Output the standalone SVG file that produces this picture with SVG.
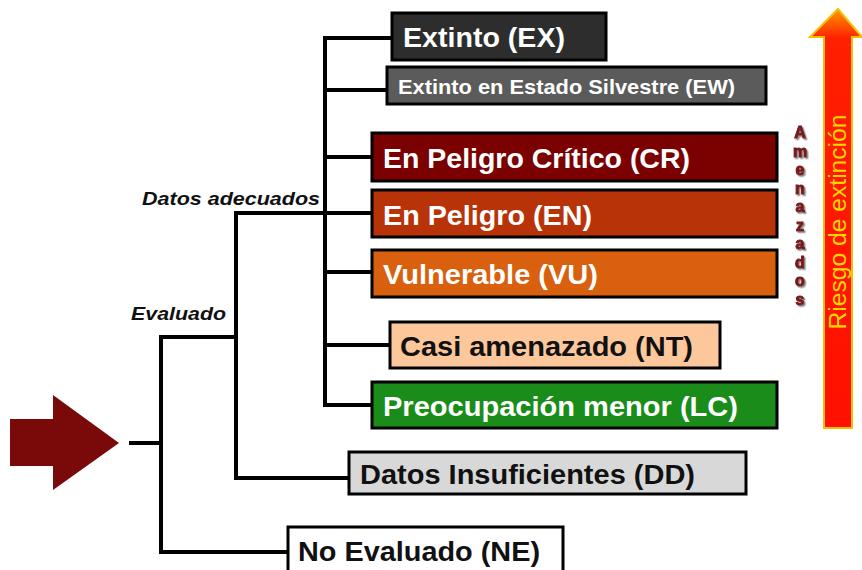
<svg xmlns="http://www.w3.org/2000/svg" width="862" height="570" viewBox="0 0 862 570">
<defs>
<style>
.box{stroke:#000;stroke-width:3}
.t{font-family:"Liberation Sans",Arial,sans-serif;font-weight:bold;font-size:28px}
.w{fill:#fff}
.k{fill:#111}
.ln{stroke:#000;stroke-width:4;fill:none;stroke-linecap:square}
.lab{font-family:"Liberation Sans",Arial,sans-serif;font-weight:bold;font-style:italic;font-size:19px;fill:#111}
.am{font-family:"Liberation Sans",Arial,sans-serif;font-weight:bold;font-size:16px;text-anchor:middle;fill:#7a1418;stroke:#7a1418;stroke-width:1}
</style>
<filter id="sh" x="-50%" y="-10%" width="200%" height="120%">
<feDropShadow dx="1.5" dy="1.5" stdDeviation="0.6" flood-color="#8a8a8a" flood-opacity="1"/>
</filter>
<linearGradient id="rg" x1="0" y1="0" x2="0" y2="1">
<stop offset="0" stop-color="#ff9a00"/>
<stop offset="0.07" stop-color="#ff2000"/>
<stop offset="1" stop-color="#ff1000"/>
</linearGradient>
</defs>
<rect width="862" height="570" fill="#fff"/>

<g id="connectors">
<polygon points="10,419 53,419 53,395 119,443 53,490 53,466 10,466" fill="#7a0a0a"/>
<path class="ln" d="M131,443 H161 M161,337 V552 M161,337 H236 M161,552 H288 M236,213 V478 M236,478 H349 M236,213 H325 M325,38 V405 M325,38 H392 M325,90 H387 M325,157 H372 M325,213 H372 M325,272 H372 M325,345 H390 M325,405 H372"/>
</g>

<g id="label-datos"><text class="lab" x="142" y="205" textLength="178" lengthAdjust="spacingAndGlyphs">Datos adecuados</text></g>
<g id="label-evaluado"><text class="lab" x="131" y="320" textLength="95" lengthAdjust="spacingAndGlyphs">Evaluado</text></g>

<g id="EX"><rect class="box" x="392" y="13" width="214" height="47" fill="#2d2d2d"/><text class="t w" x="403" y="47" textLength="162" lengthAdjust="spacingAndGlyphs">Extinto (EX)</text></g>
<g id="EW"><rect class="box" x="387" y="67" width="379" height="37" fill="#5b5b5b"/><text class="t w" x="398" y="94" style="font-size:21px" textLength="337" lengthAdjust="spacingAndGlyphs">Extinto en Estado Silvestre (EW)</text></g>
<g id="CR"><rect class="box" x="372" y="133" width="405" height="48" fill="#7b0000"/><text class="t w" x="383" y="168" textLength="307" lengthAdjust="spacingAndGlyphs">En Peligro Crítico (CR)</text></g>
<g id="EN"><rect class="box" x="372" y="190" width="405" height="47" fill="#b83308"/><text class="t w" x="383" y="225" textLength="209" lengthAdjust="spacingAndGlyphs">En Peligro (EN)</text></g>
<g id="VU"><rect class="box" x="372" y="250" width="405" height="47" fill="#d8600f"/><text class="t w" x="383" y="284" textLength="215" lengthAdjust="spacingAndGlyphs">Vulnerable (VU)</text></g>
<g id="NT"><rect class="box" x="390" y="322" width="330" height="46" fill="#fcc89b"/><text class="t k" x="400" y="356" textLength="293" lengthAdjust="spacingAndGlyphs">Casi amenazado (NT)</text></g>
<g id="LC"><rect class="box" x="372" y="382" width="405" height="46" fill="#1a8c1a"/><text class="t w" x="383" y="416" textLength="355" lengthAdjust="spacingAndGlyphs">Preocupación menor (LC)</text></g>
<g id="DD"><rect class="box" x="349" y="452" width="397" height="42" fill="#d8d8d8"/><text class="t k" x="360" y="484" textLength="335" lengthAdjust="spacingAndGlyphs">Datos Insuficientes (DD)</text></g>
<g id="NE"><rect class="box" x="288" y="527" width="275" height="48" fill="#fff"/><text class="t k" x="298" y="561" textLength="242" lengthAdjust="spacingAndGlyphs">No Evaluado (NE)</text></g>

<g id="amenazados" filter="url(#sh)">
<text class="am" x="800" y="138">A</text><text class="am" x="800" y="156.5">m</text><text class="am" x="800" y="175">e</text><text class="am" x="800" y="193.5">n</text><text class="am" x="800" y="212">a</text><text class="am" x="800" y="230.5">z</text><text class="am" x="800" y="249">a</text><text class="am" x="800" y="267.5">d</text><text class="am" x="800" y="286">o</text><text class="am" x="800" y="304.5">s</text>
</g>

<g id="riesgo">
<polygon points="838,9 862,37 852,37 852,428 824,428 824,37 810,37" fill="url(#rg)" stroke="#f5c000" stroke-width="2" stroke-linejoin="miter"/>
<text x="0" y="0" transform="translate(846,222) rotate(-90)" text-anchor="middle" font-family="'Liberation Sans',Arial,sans-serif" font-size="23" fill="#ffd800" textLength="215" lengthAdjust="spacingAndGlyphs">Riesgo de extinción</text>
</g>
</svg>
